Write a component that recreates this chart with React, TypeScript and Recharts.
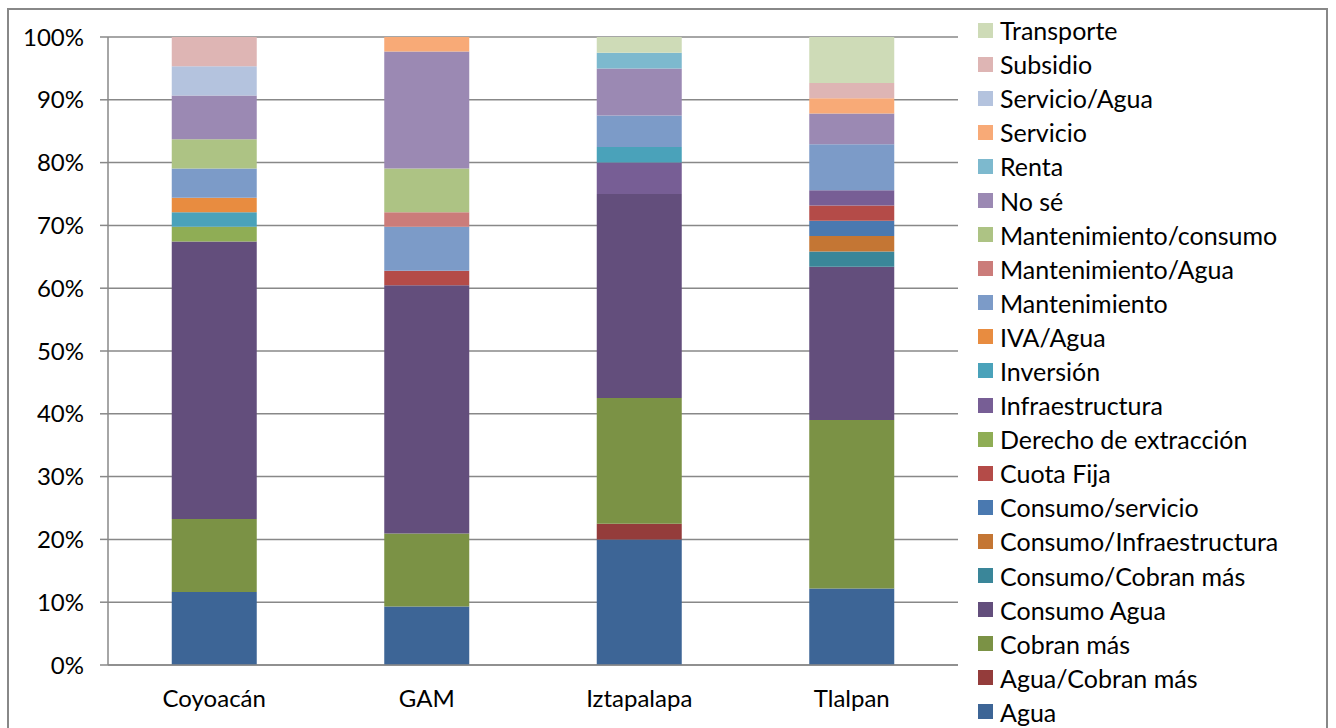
import { BarChart, Bar, XAxis, YAxis, CartesianGrid } from 'recharts';

const districts = ['Coyoacán', 'GAM', 'Iztapalapa', 'Tlalpan'];

// respuestas por delegación (counts, shown as 100% stacked)
const agua = [5, 4, 8, 5];
const aguaCobranMas = [0, 0, 1, 0];
const cobranMas = [5, 5, 8, 11];
const consumoAgua = [19, 17, 13, 10];
const consumoCobranMas = [0, 0, 0, 1];
const consumoInfraestructura = [0, 0, 0, 1];
const consumoServicio = [0, 0, 0, 1];
const cuotaFija = [0, 1, 0, 1];
const derechoExtraccion = [1, 0, 0, 0];
const infraestructura = [0, 0, 2, 1];
const inversion = [1, 0, 1, 0];
const ivaAgua = [1, 0, 0, 0];
const mantenimiento = [2, 3, 2, 3];
const mantenimientoAgua = [0, 1, 0, 0];
const mantenimientoConsumo = [2, 3, 0, 0];
const noSe = [3, 8, 3, 2];
const renta = [0, 0, 1, 0];
const servicio = [0, 1, 0, 1];
const servicioAgua = [2, 0, 0, 0];
const subsidio = [2, 0, 0, 1];
const transporte = [0, 0, 1, 3];

const percentTicks = [0, 0.1, 0.2, 0.3, 0.4, 0.5, 0.6, 0.7, 0.8, 0.9, 1];

// bottom to top stacking order
const series = [
  { key: 'Agua', values: agua, color: '#3D6596' },
  { key: 'Agua/Cobran más', values: aguaCobranMas, color: '#943C3B' },
  { key: 'Cobran más', values: cobranMas, color: '#7B9245' },
  { key: 'Consumo Agua', values: consumoAgua, color: '#634E7C' },
  { key: 'Consumo/Cobran más', values: consumoCobranMas, color: '#3A8699' },
  { key: 'Consumo/Infraestructura', values: consumoInfraestructura, color: '#C47634' },
  { key: 'Consumo/servicio', values: consumoServicio, color: '#4A79B0' },
  { key: 'Cuota Fija', values: cuotaFija, color: '#B44B48' },
  { key: 'Derecho de extracción', values: derechoExtraccion, color: '#8FAD55' },
  { key: 'Infraestructura', values: infraestructura, color: '#775E95' },
  { key: 'Inversión', values: inversion, color: '#4AA2BA' },
  { key: 'IVA/Agua', values: ivaAgua, color: '#E88C40' },
  { key: 'Mantenimiento', values: mantenimiento, color: '#7C9BC8' },
  { key: 'Mantenimiento/Agua', values: mantenimientoAgua, color: '#CB7C7A' },
  { key: 'Mantenimiento/consumo', values: mantenimientoConsumo, color: '#ADC384' },
  { key: 'No sé', values: noSe, color: '#9B89B3' },
  { key: 'Renta', values: renta, color: '#7DB9CE' },
  { key: 'Servicio', values: servicio, color: '#F8AA77' },
  { key: 'Servicio/Agua', values: servicioAgua, color: '#B4C3DE' },
  { key: 'Subsidio', values: subsidio, color: '#DEB5B4' },
  { key: 'Transporte', values: transporte, color: '#CEDBB7' },
];

const data = districts.map((name, i) => {
  const row: Record<string, string | number> = { name };
  series.forEach((s) => {
    row[s.key] = s.values[i];
  });
  return row;
});

const font = 'Lato, "Open Sans", sans-serif';
const gridColor = '#888888';

export default function App() {
  return (
    <div style={{ position: 'absolute', left: 0, top: 0, width: 1336, height: 728, overflow: 'hidden', background: '#fff', fontFamily: font }}>
      <div
        style={{
          position: 'absolute',
          left: 7,
          top: 8,
          width: 1321,
          height: 740,
          border: `2px solid ${gridColor}`,
          boxSizing: 'border-box',
        }}
      />
      <div style={{ position: 'absolute', left: 0, top: 0 }}>
        <BarChart
          width={1336}
          height={728}
          data={data}
          stackOffset="expand"
          barCategoryGap="30%"
          margin={{ top: 37, right: 378, bottom: 0, left: 0 }}
        >
          <CartesianGrid vertical={false} stroke={gridColor} strokeWidth={1.5} />
          <XAxis
            xAxisId="edges"
            type="number"
            domain={[0, 4]}
            ticks={[0, 1, 2, 3, 4]}
            tick={false}
            axisLine={false}
            tickSize={8}
            height={0}
            stroke={gridColor}
            strokeWidth={1.5}
          />
          <XAxis
            dataKey="name"
            height={63}
            tickLine={false}
            tickMargin={19}
            stroke={gridColor}
            strokeWidth={1.5}
            tick={{ fill: '#000', fontSize: 24, fontFamily: font }}
          />
          <YAxis
            width={108}
            domain={[0, 1]}
            ticks={percentTicks}
            tickFormatter={(v) => `${Math.round(v * 100)}%`}
            tickSize={8}
            tickMargin={16}
            stroke={gridColor}
            strokeWidth={1.5}
            tick={{ fill: '#000', fontSize: 24, fontFamily: font }}
          />
          {series.map((s) => (
            <Bar key={s.key} dataKey={s.key} stackId="a" fill={s.color} isAnimationActive={false} />
          ))}
        </BarChart>
      </div>
      <div style={{ position: 'absolute', left: 978, top: 13 }}>
        {[...series].reverse().map((s) => (
          <div key={s.key} style={{ display: 'flex', alignItems: 'center', height: 34.1 }}>
            <div style={{ width: 15, height: 15, background: s.color, marginRight: 7 }} />
            <span style={{ fontSize: 25, color: '#000', whiteSpace: 'nowrap' }}>{s.key}</span>
          </div>
        ))}
      </div>
    </div>
  );
}
